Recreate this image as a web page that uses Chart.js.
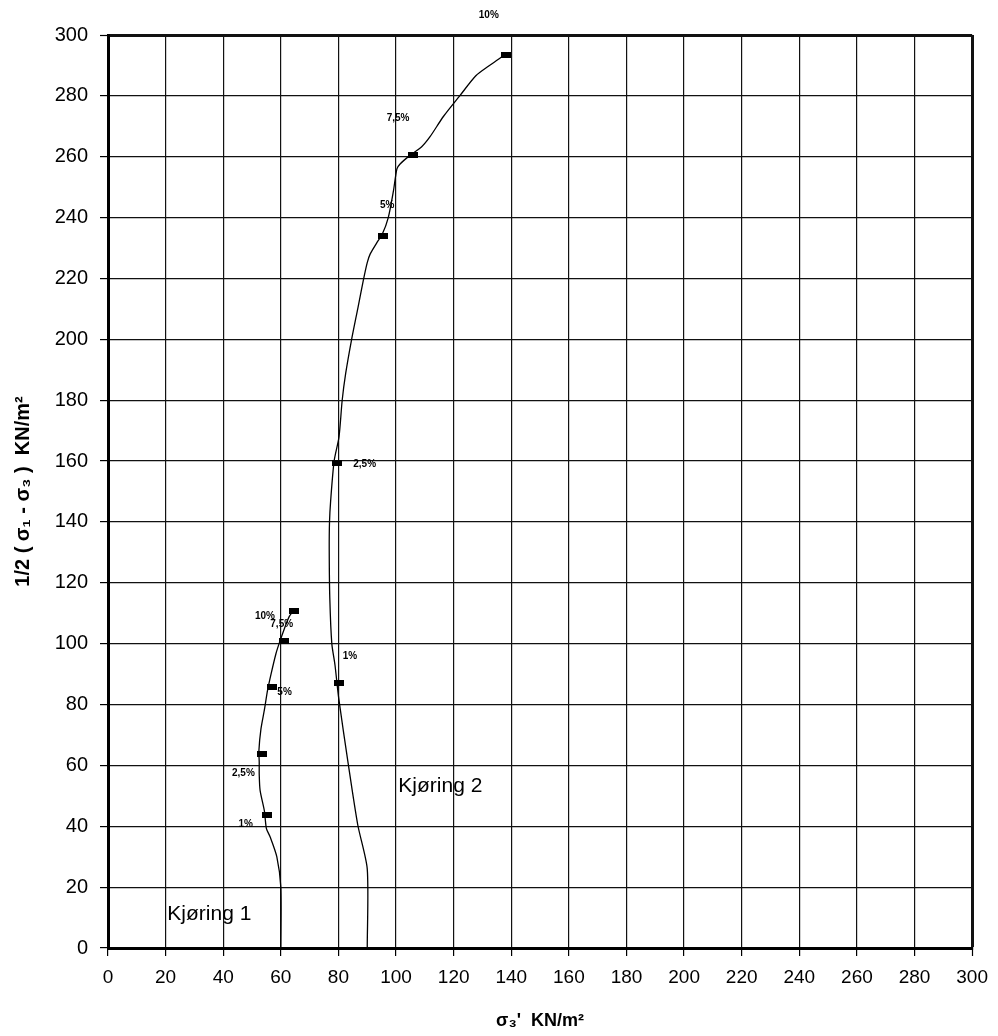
<!DOCTYPE html>
<html>
<head>
<meta charset="utf-8">
<script src="https://cdn.jsdelivr.net/npm/chart.js@4.4.1/dist/chart.umd.min.js"></script>
<style>
  body { margin: 0; background: #fff; }
  #wrap { width: 998px; height: 1036px; position: relative; }
</style>
</head>
<body>
<div id="wrap"><canvas id="stressChart"></canvas></div>
<script>
// axis ranges
const axisMin = 0;
const axisMax = 300;
const axisStep = 20;

// Kjøring 1 - stress path
const kj1CurveX = [60, 60, 58.6, 56.3, 55.0, 54.3, 52.8, 52.5, 52.5, 52.4, 53.1, 54.3, 55.4, 56.6, 58.3, 59.4, 61.1, 62.9, 64.6];
const kj1CurveY = [0, 20, 30, 36.5, 39.2, 45, 51.8, 57, 61, 65, 72, 78.3, 84.7, 90, 96.7, 100, 104.6, 108.9, 111];
// Kjøring 1 - measured points (1%, 2,5%, 5%, 7,5%, 10%)
const kj1MarkX = [55.1, 53.6, 56.9, 61.2, 64.7];
const kj1MarkY = [43.6, 63.9, 85.8, 100.8, 110.8];

// Kjøring 2 - stress path
const kj2CurveX = [90, 90, 86.7, 83.4, 80.1, 78.8, 77.7, 77.0, 76.8, 76.9, 77.3, 78.5, 80.2, 81.3, 82.5, 84.5, 86.8, 88.6, 90.0, 91.0, 93.3, 95.2, 97.3, 99.1, 100.3, 101.4, 104.5, 108.9, 111.8, 116.5, 122.1, 127.7, 132.3, 136.4, 138.0];
const kj2CurveY = [0, 26, 40.5, 60.5, 82, 93, 100, 115, 131, 140, 147, 160, 168, 180, 188.7, 199.6, 210.5, 219.2, 225.2, 228, 231.7, 234.5, 240, 248.8, 256, 257.6, 260.2, 263.3, 266.6, 273.3, 280, 286.6, 289.9, 292.6, 294];
// Kjøring 2 - measured points
const kj2MarkX = [80.3, 79.6, 95.5, 105.8, 138];
const kj2MarkY = [87, 159.3, 234, 260.5, 293.5];

// strain labels
const pctLabels = ['1%', '2,5%', '5%', '7,5%', '10%'];
const kj1LabelX = [47.8, 47, 61.3, 60.3, 54.5];
const kj1LabelY = [40.5, 57.5, 84.2, 106.5, 109];
const kj2LabelX = [84, 89.1, 96.9, 100.7, 132.2];
const kj2LabelY = [95.9, 159.1, 243.9, 272.8, 306.6];

// run names
const runNames = ['Kjøring 1', 'Kjøring 2'];
const runNameX = [20.6, 100.8];
const runNameY = [9.2, 51.1];

const FONT = '"Liberation Sans", Arial, sans-serif';

function toPoints(xs, ys) {
    return xs.map((x, i) => ({ x: x, y: ys[i] }));
}

// small filled rectangle used as point marker
const markerImg = document.createElement('canvas');
markerImg.width = 10;
markerImg.height = 6;
const mctx = markerImg.getContext('2d');
mctx.fillStyle = '#000';
mctx.fillRect(0, 0, 10, 6);

// draws the % labels and the run names
const textLabels = {
    id: 'textLabels',
    afterDraw(chart) {
        const ctx = chart.ctx;
        const xs = chart.scales.x;
        const ys = chart.scales.y;
        ctx.save();
        ctx.fillStyle = '#000';
        ctx.font = 'bold 10px ' + FONT;
        ctx.textAlign = 'center';
        ctx.textBaseline = 'middle';
        pctLabels.forEach((t, i) => {
            ctx.fillText(t, xs.getPixelForValue(kj1LabelX[i]), ys.getPixelForValue(kj1LabelY[i]));
            ctx.fillText(t, xs.getPixelForValue(kj2LabelX[i]), ys.getPixelForValue(kj2LabelY[i]));
        });
        ctx.font = '21px ' + FONT;
        ctx.textAlign = 'left';
        ctx.textBaseline = 'alphabetic';
        runNames.forEach((t, i) => {
            ctx.fillText(t, xs.getPixelForValue(runNameX[i]), ys.getPixelForValue(runNameY[i]));
        });
        ctx.restore();
    }
};

const borderWidthAt = (ctx) => (ctx.tick && ctx.tick.value === axisMax ? 3 : 1.2);

const chartCtx = document.getElementById('stressChart').getContext('2d');
new Chart(chartCtx, {
    type: 'scatter',
    data: {
        datasets: [
            {
                label: 'Kjøring 1',
                data: toPoints(kj1CurveX, kj1CurveY),
                showLine: true,
                borderColor: '#000',
                borderWidth: 1.3,
                pointRadius: 0,
                tension: 0.25
            },
            {
                label: 'Kjøring 2',
                data: toPoints(kj2CurveX, kj2CurveY),
                showLine: true,
                borderColor: '#000',
                borderWidth: 1.3,
                pointRadius: 0,
                tension: 0.25
            },
            {
                label: 'Kjøring 1 punkter',
                data: toPoints(kj1MarkX, kj1MarkY),
                pointStyle: markerImg,
                pointRadius: 5
            },
            {
                label: 'Kjøring 2 punkter',
                data: toPoints(kj2MarkX, kj2MarkY),
                pointStyle: markerImg,
                pointRadius: 5
            }
        ]
    },
    options: {
        responsive: true,
        maintainAspectRatio: false,
        animation: false,
        layout: { padding: { top: 35, right: 24, left: 0, bottom: 0 } },
        plugins: {
            legend: { display: false },
            tooltip: { enabled: false }
        },
        scales: {
            x: {
                type: 'linear',
                min: axisMin,
                max: axisMax,
                afterFit(scale) { scale.height = 88; },
                ticks: {
                    stepSize: axisStep,
                    color: '#000',
                    padding: 10,
                    font: { family: FONT, size: 19 }
                },
                grid: {
                    color: '#111',
                    lineWidth: borderWidthAt,
                    tickLength: 8,
                    tickWidth: 1.2,
                    tickColor: '#000'
                },
                border: { color: '#000', width: 3 },
                title: {
                    display: true,
                    text: 'σ₃\'  KN/m²',
                    color: '#000',
                    padding: { top: 4, bottom: 4 },
                    font: { family: FONT, size: 18, weight: 'bold' }
                }
            },
            y: {
                type: 'linear',
                min: axisMin,
                max: axisMax,
                afterFit(scale) { scale.width = 108; },
                ticks: {
                    stepSize: axisStep,
                    color: '#000',
                    padding: 12,
                    font: { family: FONT, size: 20 }
                },
                grid: {
                    color: '#111',
                    lineWidth: borderWidthAt,
                    tickLength: 8,
                    tickWidth: 1.2,
                    tickColor: '#000'
                },
                border: { color: '#000', width: 3 },
                title: {
                    display: true,
                    text: '1/2 ( σ₁ - σ₃ )  KN/m²',
                    color: '#000',
                    padding: { top: 11, bottom: 4 },
                    font: { family: FONT, size: 20, weight: 'bold' }
                }
            }
        }
    },
    plugins: [textLabels]
});
</script>
</body>
</html>
